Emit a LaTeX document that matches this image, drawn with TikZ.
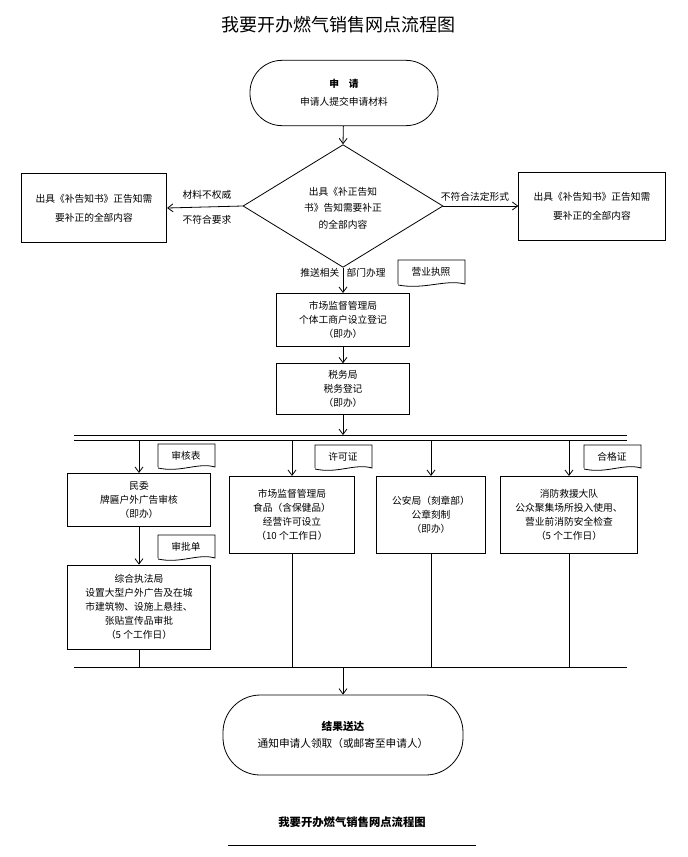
\documentclass[tikz,border=0pt]{standalone}
\usepackage{fontspec}
\setmainfont{Noto Sans CJK SC}
\usetikzlibrary{shapes.geometric,arrows.meta}
\begin{document}
\begin{tikzpicture}[x=0.75pt,y=-0.75pt,line width=0.6pt,
  box/.style={draw,rectangle,inner sep=0pt,align=center,font=\fontsize{7.3}{10.5}\selectfont},
  lbl/.style={font=\fontsize{7.3}{9}\selectfont,inner sep=1pt},
  arr/.style={-{Straight Barb[length=4pt,width=6pt]}},
  ln/.style={}]
\useasboundingbox (0,0) rectangle (687,857);
\node[font=\fontsize{13.5}{15}\selectfont] (title) at (338,25) {我要开办燃气销售网点流程图};
% start
\node[box,minimum width=141pt,minimum height=49pt,rounded corners=24pt] (start) at (344,93) {\textbf{申\quad 请}\\[3pt]申请人提交申请材料};
\node[box,diamond,minimum width=150pt,minimum height=92pt,aspect=1.6] (dia) at (343,206) {};
\node[box,draw=none,align=center,font=\fontsize{7.3}{12.5}\selectfont] (diat) at (343,208) {出具《补正告知\\书》告知需要补正\\的全部内容};
\node[box,minimum width=109pt,minimum height=52pt,font=\fontsize{7.3}{14}\selectfont] (lb) at (94,208) {出具《补告知书》正告知需\\要补正的全部内容};
\node[box,minimum width=110pt,minimum height=51pt,font=\fontsize{7.3}{14}\selectfont] (rb) at (592,206) {出具《补告知书》正告知需\\要补正的全部内容};
\draw[arr] (start) -- (dia.north);
\draw[arr] (dia.west) -- (lb.east);
\draw[arr] (dia.east) -- (rb.west);
\node[lbl] (l1) at (207,195) {材料不权威};
\node[lbl] (l2) at (207,220) {不符合要求};
\node[lbl] (l3) at (475,197) {不符合法定形式};
% market
\node[box,minimum width=100pt,minimum height=40pt] (mkt) at (343,320) {市场监督管理局\\个体工商户设立登记\\（即办）};
\node[box,minimum width=100pt,minimum height=38pt] (tax) at (343,389) {税务局\\税务登记\\（即办）};
\draw[arr] (dia.south) -- (mkt.north);
\node[lbl,anchor=east] (p1) at (341,273) {推送相关};
\node[lbl,anchor=west] (p2) at (345,273) {部门办理};
\newcommand{\tagshape}[4]{% x1 y1 x2 y2
  \draw (#1,#4) -- (#1,#2) -- (#3,#2) -- (#3,#4) .. controls ({#3-(#3-#1)*0.3},{#4-5}) and ({#1+(#3-#1)*0.4},{#4+6}) .. (#1,{#4+1});}
\tagshape{398}{260}{465}{284}
\node[lbl] (t0) at (431,272) {营业执照};
\draw[arr] (mkt) -- (tax);
\coordinate (bus) at (343,435);
\draw[arr] (tax.south) -- (bus);
\draw[ln] (74,435) coordinate (b1) -- (627,435) coordinate (b2);
\draw[ln] (74,440) coordinate (b3) -- (627,440) coordinate (b4);
% boxes
\node[box,minimum width=107pt,minimum height=40pt] (mw) at (139,500) {民委\\牌匾户外广告审核\\（即办）};
\node[box,minimum width=107pt,minimum height=63pt] (zh) at (139,607) {综合执法局\\设置大型户外广告及在城\\市建筑物、设施上悬挂、\\张贴宣传品审批\\（5 个工作日）};
\node[box,minimum width=94pt,minimum height=58pt] (sp) at (292,515) {市场监督管理局\\食品（含保健品）\\经营许可设立\\（10 个工作日）};
\node[box,minimum width=82pt,minimum height=58pt] (ga) at (431,515) {公安局（刻章部）\\公章刻制\\（即办）};
\node[box,minimum width=103pt,minimum height=58pt] (xf) at (569,515) {消防救援大队\\公众聚集场所投入使用、\\营业前消防安全检查\\（5 个工作日）};
\foreach \n/\x in {mw/139,sp/292,ga/431,xf/569}{
  \coordinate (top\n) at (\x,440);
  \draw[arr] (top\n) -- (\n.north);
}
\draw[arr] (mw.south) -- (zh.north);
\tagshape{158}{444}{215}{467}
\node[lbl] (t1) at (186,456) {审核表};
\tagshape{158}{535}{215}{558}
\node[lbl] (t2) at (186,547) {审批单};
\tagshape{315}{445}{372}{468}
\node[lbl] (t3) at (343,457) {许可证};
\tagshape{584}{445}{641}{468}
\node[lbl] (t4) at (612,457) {合格证};
\draw[ln] (74,667) coordinate (c1) -- (627,667) coordinate (c2);
\draw[ln] (zh.south) -- (139,667);
\draw[ln] (sp.south) -- (292,667);
\draw[ln] (ga.south) -- (431,667);
\draw[ln] (xf.south) -- (569,667);
\node[box,minimum width=180pt,minimum height=60pt,rounded corners=28pt,font=\fontsize{8}{11}\selectfont] (end) at (343,735) {\textbf{结果送达}\\[2pt]通知申请人领取（或邮寄至申请人）};
\coordinate (cm) at (343,667);
\draw[arr] (cm) -- (end.north);
\node[font=\fontsize{8.5}{10}\selectfont\bfseries] (foot) at (352,822) {我要开办燃气销售网点流程图};
\draw (228,845) coordinate (f1) -- (476,845) coordinate (f2);
\end{tikzpicture}
\end{document}
